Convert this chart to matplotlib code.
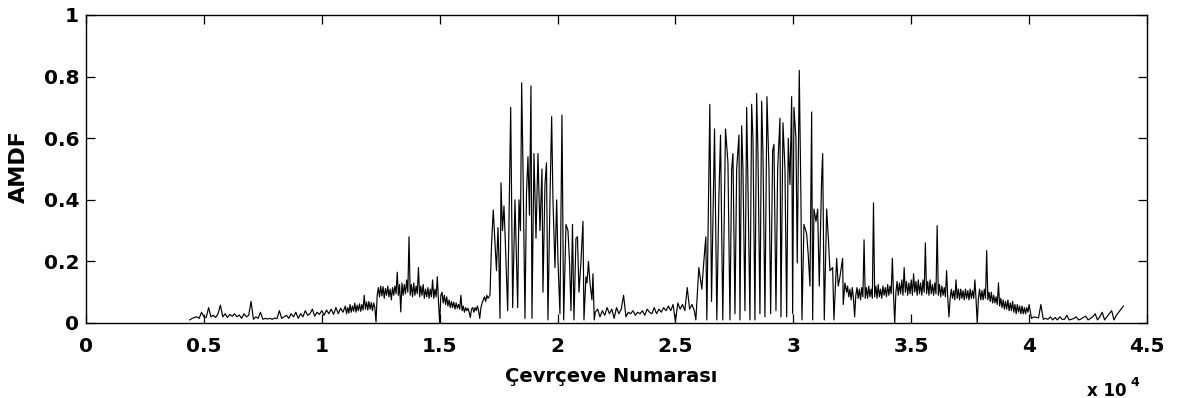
import numpy as np
import matplotlib
matplotlib.use("Agg")
import matplotlib.pyplot as plt
from matplotlib.ticker import FixedLocator, FuncFormatter

# ---------------- data (AMDF vs frame number) ----------------
# low part at the start: start frame, step, values
seg1a_start, seg1a_step = 4400, 100
seg1a_vals = [0.01, 0.015, 0.018, 0.02, 0.015, 0.035, 0.02, 0.018, 0.05, 0.02,
              0.025, 0.018, 0.03, 0.058, 0.02, 0.03, 0.018, 0.028, 0.022, 0.03,
              0.02, 0.026, 0.015, 0.03, 0.02, 0.025, 0.07, 0.012, 0.02, 0.015,
              0.035, 0.012, 0.015, 0.013, 0.015, 0.012, 0.016, 0.014, 0.04, 0.015,
              0.02, 0.025, 0.015, 0.03, 0.02, 0.035, 0.015, 0.03, 0.02, 0.04,
              0.025, 0.03, 0.045, 0.022, 0.035, 0.028, 0.04, 0.025, 0.042, 0.03,
              0.045, 0.028, 0.05, 0.03, 0.048, 0.035]

# noisy band before the first voiced burst
seg1b_start, seg1b_step = 11000, 50
seg1b_vals = [0.055, 0.03, 0.05, 0.032, 0.06, 0.035, 0.055, 0.038, 0.065, 0.035,
              0.058, 0.04, 0.062, 0.038, 0.06, 0.042, 0.09, 0.045, 0.068, 0.042,
              0.07, 0.045, 0.066, 0.04, 0.065, 0.05, 0.003, 0.09, 0.115, 0.085,
              0.12, 0.088, 0.118, 0.08, 0.112, 0.09, 0.12, 0.085, 0.11, 0.075,
              0.115, 0.09, 0.12, 0.095, 0.165, 0.09, 0.125, 0.036, 0.13, 0.09,
              0.125, 0.095, 0.14, 0.1, 0.28, 0.09, 0.125, 0.085, 0.13, 0.09,
              0.12, 0.095, 0.18, 0.085, 0.12, 0.09, 0.125, 0.08, 0.11, 0.085,
              0.115, 0.08, 0.11, 0.085, 0.14, 0.08, 0.11, 0.085, 0.15, 0.07,
              0.0, 0.09, 0.1, 0.065, 0.09, 0.06, 0.085, 0.055, 0.075, 0.05,
              0.07, 0.05, 0.068, 0.045, 0.065, 0.048, 0.06, 0.045, 0.09, 0.04,
              0.055, 0.035, 0.05, 0.04, 0.048, 0.035, 0.018, 0.045, 0.05, 0.035,
              0.05, 0.04, 0.055, 0.04, 0.015, 0.05, 0.065, 0.075, 0.085, 0.07,
              0.09]

# first voiced burst
burst1_x = [17049, 17134, 17197, 17273, 17346, 17409, 17473, 17515, 17558, 17601,
            17664, 17728, 17791, 17884, 18012, 18096, 18194, 18309, 18364, 18427,
            18478, 18533, 18618, 18682, 18745, 18809, 18872, 18915, 19000, 19085,
            19169, 19254, 19339, 19381, 19466, 19530, 19593, 19678, 19750, 19805,
            19890, 19962, 20018, 20102, 20187, 20259, 20357, 20442, 20506, 20569,
            20633, 20696, 20781, 20845, 20908, 20993, 21078, 21120, 21205, 21247,
            21311, 21375, 21459, 21502, 21557]
burst1_y = [0.08, 0.09, 0.25, 0.367, 0.26, 0.17, 0.31, 0.2, 0.015, 0.455,
            0.3, 0.38, 0.25, 0.04, 0.70, 0.05, 0.40, 0.05, 0.40, 0.3,
            0.78, 0.51, 0.015, 0.42, 0.54, 0.35, 0.77, 0.015, 0.55, 0.275,
            0.55, 0.3, 0.5, 0.1, 0.45, 0.52, 0.01, 0.4, 0.67, 0.4,
            0.18, 0.4, 0.2, 0.03, 0.675, 0.01, 0.32, 0.3, 0.2, 0.04,
            0.32, 0.01, 0.275, 0.28, 0.1, 0.2, 0.33, 0.01, 0.15, 0.13,
            0.2, 0.13, 0.075, 0.16, 0.01]

# unvoiced gap between bursts
seg3_start, seg3_step = 21600, 100
seg3_vals = [0.035, 0.045, 0.02, 0.04, 0.025, 0.05, 0.03, 0.045, 0.015, 0.05,
             0.03, 0.045, 0.09, 0.02, 0.035, 0.03, 0.04, 0.025, 0.035, 0.03,
             0.04, 0.025, 0.045, 0.035, 0.03, 0.05, 0.03, 0.045, 0.035, 0.05,
             0.04, 0.055, 0.04, 0.06, 0.005, 0.065, 0.045, 0.06, 0.04, 0.115,
             0.045, 0.06, 0.04]

# second voiced burst
burst2_x = [25865, 25992, 26119, 26204, 26289, 26331, 26458, 26530, 26658, 26755,
            26840, 26912, 27008, 27123, 27227, 27312, 27384, 27439, 27524, 27596,
            27694, 27736, 27808, 27863, 27948, 28020, 28075, 28160, 28232, 28287,
            28372, 28444, 28500, 28584, 28656, 28712, 28796, 28881, 28966, 29038,
            29123, 29178, 29263, 29335, 29433, 29475, 29560, 29645, 29717, 29785,
            29857, 29929, 29971, 30026, 30111, 30166, 30251, 30323, 30366, 30450,
            30565, 30633, 30705, 30777, 30820, 30875, 30960, 31032, 31100, 31201,
            31244, 31312, 31414, 31482, 31553, 31667, 31722, 31837, 31905, 31977,
            32091, 32116, 32189, 32261]
burst2_y = [0.01, 0.18, 0.11, 0.2, 0.28, 0.01, 0.71, 0.07, 0.63, 0.01,
            0.4, 0.61, 0.01, 0.63, 0.52, 0.01, 0.5, 0.55, 0.03, 0.5,
            0.61, 0.01, 0.64, 0.5, 0.04, 0.70, 0.45, 0.01, 0.71, 0.6,
            0.01, 0.745, 0.55, 0.03, 0.72, 0.55, 0.02, 0.735, 0.5, 0.03,
            0.56, 0.58, 0.04, 0.5, 0.665, 0.02, 0.65, 0.5, 0.02, 0.6,
            0.45, 0.735, 0.03, 0.7, 0.6, 0.195, 0.82, 0.4, 0.01, 0.32,
            0.29, 0.22, 0.12, 0.685, 0.01, 0.37, 0.33, 0.37, 0.12, 0.47,
            0.55, 0.01, 0.37, 0.28, 0.17, 0.18, 0.01, 0.21, 0.12, 0.15,
            0.21, 0.06, 0.13, 0.1]

# noisy band after the second burst
seg5a_start, seg5a_step = 32300, 50
seg5a_vals = [0.12, 0.085, 0.11, 0.075, 0.115, 0.08, 0.02, 0.09, 0.115, 0.08,
              0.11, 0.075, 0.115, 0.085, 0.27, 0.08, 0.115, 0.08, 0.12, 0.085,
              0.11, 0.08, 0.39, 0.085, 0.12, 0.08, 0.125, 0.085, 0.11, 0.08,
              0.12, 0.09, 0.115, 0.085, 0.125, 0.09, 0.12, 0.095, 0.21, 0.09,
              0.0, 0.1, 0.135, 0.09, 0.13, 0.095, 0.14, 0.09, 0.18, 0.1,
              0.135, 0.09, 0.13, 0.095, 0.14, 0.09, 0.16, 0.1, 0.135, 0.09,
              0.14, 0.095, 0.13, 0.09, 0.14, 0.1, 0.26, 0.095, 0.135, 0.09,
              0.14, 0.095, 0.125, 0.09, 0.13, 0.095, 0.316, 0.09, 0.125, 0.085,
              0.12, 0.09, 0.115, 0.085, 0.17, 0.08, 0.02, 0.08, 0.11, 0.08,
              0.105, 0.075, 0.14, 0.08, 0.11, 0.075, 0.11, 0.08, 0.105, 0.075,
              0.11, 0.08, 0.105, 0.075, 0.11, 0.08, 0.105, 0.08, 0.14, 0.075,
              0.0, 0.08, 0.11, 0.075, 0.105, 0.075, 0.11, 0.08, 0.235, 0.075,
              0.1, 0.07, 0.1, 0.065, 0.09, 0.065, 0.085, 0.06, 0.13, 0.055,
              0.08, 0.05, 0.075, 0.045, 0.07, 0.045, 0.075, 0.04, 0.065, 0.04,
              0.07, 0.035, 0.06, 0.03, 0.06, 0.035, 0.055, 0.03, 0.055, 0.03,
              0.05, 0.03, 0.05, 0.035, 0.06]

# quiet tail
seg5b_start, seg5b_step = 40100, 100
seg5b_vals = [0.015, 0.02, 0.018, 0.017, 0.06, 0.012, 0.015, 0.012, 0.02, 0.01,
              0.018, 0.01, 0.02, 0.012, 0.012, 0.025, 0.01, 0.012, 0.015, 0.02,
              0.01, 0.013, 0.018, 0.022, 0.01, 0.015, 0.02, 0.03, 0.01, 0.02,
              0.035, 0.01, 0.02, 0.03, 0.04, 0.01, 0.025, 0.035, 0.045, 0.055]

x_ticks = [0, 5000, 10000, 15000, 20000, 25000, 30000, 35000, 40000, 45000]
y_ticks = [0, 0.2, 0.4, 0.6, 0.8, 1.0]
x_label = "Çevrçeve Numarası"
y_label = "AMDF"

# ---------------- assemble ----------------
def seg_x(start, step, vals):
    return list(start + step * np.arange(len(vals)))

xs = (seg_x(seg1a_start, seg1a_step, seg1a_vals) +
      seg_x(seg1b_start, seg1b_step, seg1b_vals) + burst1_x +
      seg_x(seg3_start, seg3_step, seg3_vals) + burst2_x +
      seg_x(seg5a_start, seg5a_step, seg5a_vals) +
      seg_x(seg5b_start, seg5b_step, seg5b_vals))
ys = seg1a_vals + seg1b_vals + burst1_y + seg3_vals + burst2_y + seg5a_vals + seg5b_vals

plt.rcParams['font.family'] = ['DejaVu Sans']
plt.rcParams['font.weight'] = 'bold'

W, H = 1180, 398
fig = plt.figure(figsize=(W / 100, H / 100), dpi=100)
L, R, T, B = 86, 1147, 15, 323
ax = fig.add_axes([L / W, 1 - B / H, (R - L) / W, (B - T) / H])

ax.plot(xs, ys, color='black', linewidth=0.85)

ax.set_xlim(0, 45000)
ax.set_ylim(0, 1)
ax.xaxis.set_major_locator(FixedLocator(x_ticks))
ax.yaxis.set_major_locator(FixedLocator(y_ticks))
ax.xaxis.set_major_formatter(FuncFormatter(lambda v, p: f"{v / 1e4:g}"))
ax.yaxis.set_major_formatter(FuncFormatter(lambda v, p: f"{v:g}"))
ax.tick_params(direction='in', length=6.5, width=0.9, top=True, right=True,
               labelsize=14.5)
ax.tick_params(axis='x', pad=10)
ax.tick_params(axis='y', pad=5)
for lab in ax.get_xticklabels() + ax.get_yticklabels():
    lab.set_fontweight('bold')
for s in ax.spines.values():
    s.set_linewidth(1.0)

ax.set_xlabel(x_label, fontsize=14, fontweight='bold')
ax.xaxis.label.set_va('baseline')
ax.xaxis.set_label_coords((611 - L) / (R - L), (B - 382) / (B - T))
ax.set_ylabel(y_label, fontsize=16, fontweight='bold')
ax.yaxis.label.set_va('center')
ax.yaxis.set_label_coords((19 - L) / (R - L), (B - 167) / (B - T))

fig.text(1087 / W, 1 - 396 / H, "x 10", fontsize=12, fontweight='bold',
         ha='left', va='baseline')
fig.text(1130 / W, 1 - 386 / H, "4", fontsize=9, fontweight='bold',
         ha='left', va='baseline')

fig.savefig("out.png", dpi=100)
